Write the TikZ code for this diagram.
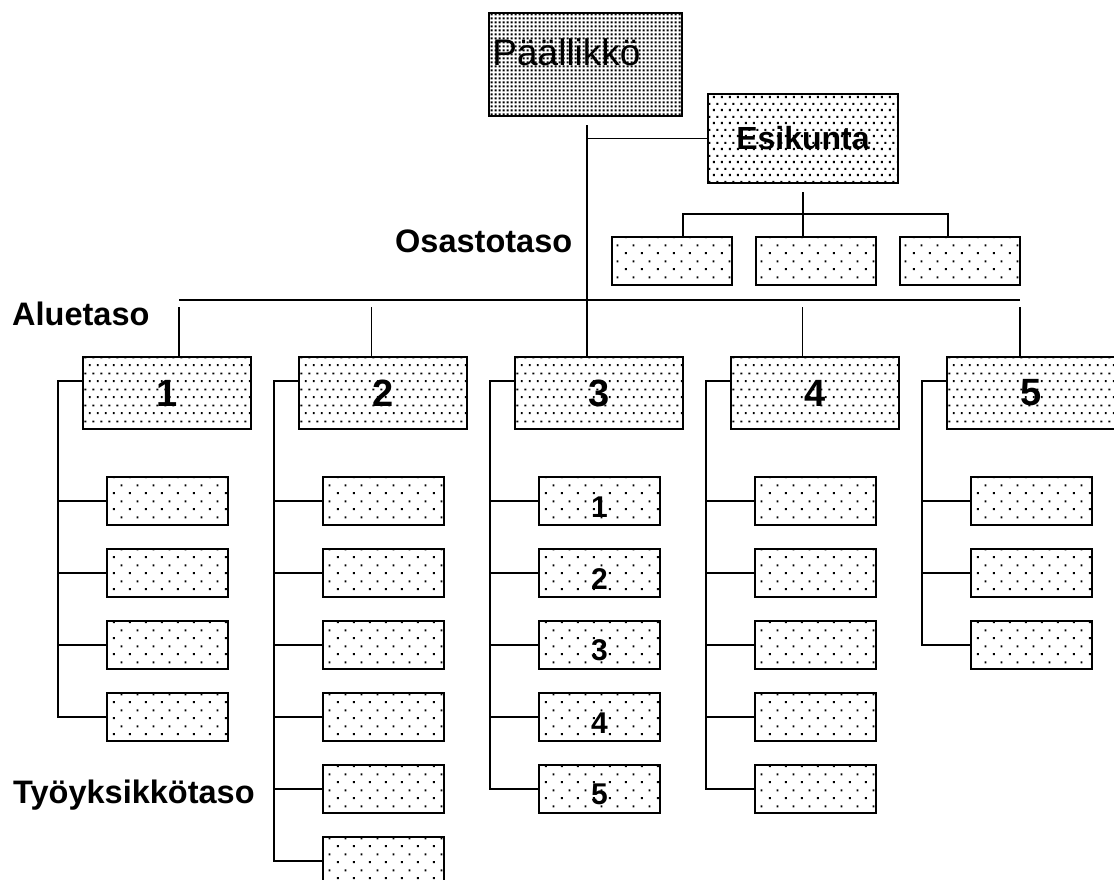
\documentclass[tikz,border=0pt]{standalone}
\usepackage{fontspec}
\setmainfont{Liberation Sans}
\usetikzlibrary{patterns,positioning}

% dot fills, from dense to sparse
\pgfdeclarepatternformonly{finedots}{\pgfqpoint{0pt}{0pt}}{\pgfqpoint{3.6pt}{3.6pt}}{\pgfqpoint{3.6pt}{3.6pt}}{%
  \pgfpathrectangle{\pgfqpoint{0.7pt}{0.7pt}}{\pgfqpoint{2.1pt}{2.1pt}}\pgfusepath{fill}}
\pgfdeclarepatternformonly{staffdots}{\pgfqpoint{0pt}{0pt}}{\pgfqpoint{8pt}{13pt}}{\pgfqpoint{8pt}{13pt}}{%
  \pgfpathrectangle{\pgfqpoint{1pt}{1pt}}{\pgfqpoint{2.2pt}{2.2pt}}%
  \pgfpathrectangle{\pgfqpoint{5pt}{7.5pt}}{\pgfqpoint{2.2pt}{2.2pt}}\pgfusepath{fill}}
\pgfdeclarepatternformonly{areadots}{\pgfqpoint{0pt}{0pt}}{\pgfqpoint{8pt}{16pt}}{\pgfqpoint{8pt}{16pt}}{%
  \pgfpathrectangle{\pgfqpoint{1pt}{1pt}}{\pgfqpoint{2pt}{2pt}}%
  \pgfpathrectangle{\pgfqpoint{5pt}{9pt}}{\pgfqpoint{2pt}{2pt}}\pgfusepath{fill}}
\pgfdeclarepatternformonly{unitdots}{\pgfqpoint{0pt}{0pt}}{\pgfqpoint{16pt}{16pt}}{\pgfqpoint{16pt}{16pt}}{%
  \pgfpathrectangle{\pgfqpoint{1pt}{1pt}}{\pgfqpoint{2pt}{2pt}}%
  \pgfpathrectangle{\pgfqpoint{9pt}{9pt}}{\pgfqpoint{2pt}{2pt}}\pgfusepath{fill}}

\tikzset{
  box/.style={draw,rectangle,line width=2pt,inner sep=0pt},
  line/.style={line width=1.5pt},
  level/.style={anchor=base west,inner sep=0pt,font=\bfseries\fontsize{32.5}{38}\selectfont}
}

\begin{document}
\begin{tikzpicture}[x=1pt,y=-1pt,
  bossbox/.style={box,pattern=finedots,minimum width=193pt,minimum height=103pt},
  staffbox/.style={box,pattern=staffdots,minimum width=190pt,minimum height=89pt,font=\bfseries\fontsize{32}{38}\selectfont},
  deptbox/.style={box,pattern=unitdots,minimum width=120pt,minimum height=48pt},
  areabox/.style={box,pattern=areadots,minimum width=168pt,minimum height=72pt,font=\bfseries\fontsize{38}{44}\selectfont},
  unitbox/.style={box,pattern=unitdots,minimum width=121pt,minimum height=48pt,text height=32pt,font=\bfseries\fontsize{30}{34}\selectfont}]

\useasboundingbox (0,0) rectangle (1114,879);

\node[bossbox,label={[xshift=-19pt,yshift=12pt,font=\fontsize{37}{43}\selectfont]center:Päällikkö}] (paallikko) at (585.5,64.5) {};
\node[staffbox] (esikunta) at (803,138.5) {Esikunta};

\foreach \i/\x in {1/672,2/815.5,3/959.5} {
    \node[deptbox] (e\i) at (\x,261) {};
}

\foreach \i in {1,...,5} {
    \node[areabox] (a\i) at ({167+216*(\i-1)},393) {\i};
}

% tyoyksikot, numbered only under alue 3
\foreach \i/\n in {1/4,2/6,3/5,4/5,5/3} {
    \foreach \j in {1,...,\n} {
        \node[unitbox] (t\i-\j) at ({167.5+216*(\i-1)},{501+72*(\j-1)}) {\ifnum\i=3 \j\fi};
        \draw[line] (t\i-\j.west) -- ++(-47.5,0);
    }
    \draw[line] ([yshift=12pt]a\i.west) -- ++(-24,0) |- (t\i-\n.west);
}

% runko
\draw[line] (paallikko.south) ++(1.5,8) coordinate (runko) -- ([xshift=-12pt]a3.north);
\draw[line] (esikunta.west) -- (esikunta.west -| runko);

\draw[line] ([yshift=-8pt]esikunta.south) -- ++(0,22) coordinate (esijako);
\draw[line] ([xshift=11pt]e1.north) |- (esijako) -| ([xshift=-11.5pt]e3.north);
\draw[line] (esijako) -- ([xshift=-12.5pt]e2.north);

\draw[line] ([xshift=12pt,yshift=56pt]a1.north) -- ([xshift=-11pt,yshift=56pt]a5.north);
\foreach \i/\dx in {1/12,2/-11.5,4/-12.5,5/-11} {
    \draw[line] ([xshift=\dx pt]a\i.north) -- ++(0,-49);
}

\node[level] (osasto) at (395,252) {Osastotaso};
\node[level] (alue) at (12,325) {Aluetaso};
\node[level] (tyo) at (13,803) {Työyksikkötaso};
\end{tikzpicture}
\end{document}
